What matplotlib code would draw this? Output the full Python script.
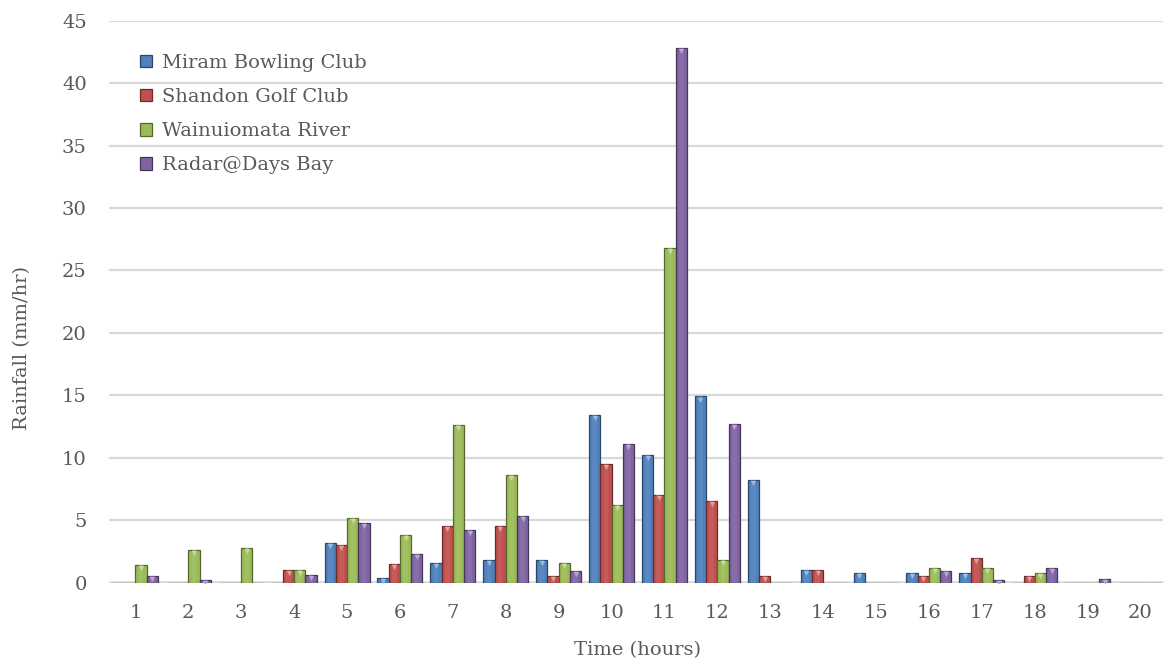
import numpy as np
import matplotlib
matplotlib.use("Agg")
import matplotlib.pyplot as plt
from matplotlib.patches import Rectangle
from matplotlib.transforms import ScaledTranslation
from matplotlib.colors import to_rgb

# Hourly rainfall at four gauges
hours = list(range(1, 21))
series_names = ["Miram Bowling Club", "Shandon Golf Club", "Wainuiomata River", "Radar@Days Bay"]
miram = [0, 0, 0, 0, 3.2, 0.4, 1.6, 1.8, 1.8, 13.4, 10.2, 14.9, 8.2, 1.0, 0.8, 0.8, 0.8, 0, 0, 0]
shandon = [0, 0, 0, 1.0, 3.0, 1.5, 4.5, 4.5, 0.5, 9.5, 7.0, 6.5, 0.5, 1.0, 0, 0.5, 2.0, 0.5, 0, 0]
wainuiomata = [1.4, 2.6, 2.8, 1.0, 5.2, 3.8, 12.6, 8.6, 1.6, 6.2, 26.8, 1.8, 0, 0, 0, 1.2, 1.2, 0.8, 0, 0]
radar = [0.5, 0.2, 0, 0.6, 4.8, 2.3, 4.2, 5.3, 0.9, 11.1, 42.8, 12.7, 0, 0, 0, 0.9, 0.2, 1.2, 0.3, 0]
y_ticks = [0, 5, 10, 15, 20, 25, 30, 35, 40, 45]

colors = ["#4F81BD", "#C0504D", "#9BBB59", "#8064A2"]
text_color = "#595959"
grid_color = "#D9D9D9"

plt.rcParams["font.family"] = ["DejaVu Serif"]


def shade(c, f):
    r, g, b = to_rgb(c)
    if f < 1:
        return (r * f, g * f, b * f)
    return (r + (1 - r) * (f - 1), g + (1 - g) * (f - 1), b + (1 - b) * (f - 1))


W, H = 1163, 661
fig = plt.figure(figsize=(W / 100, H / 100), dpi=100)
ax = fig.add_axes([109 / W, 78.5 / H, (1167 - 109) / W, (582.5 - 20.7) / H])

x = np.arange(len(hours)) + 1
bw = 0.2125
data = [miram, shandon, wainuiomata, radar]
tri_shift = ScaledTranslation(0, -2.2 / 72, fig.dpi_scale_trans)

for i, (vals, c) in enumerate(zip(data, colors)):
    vals = np.asarray(vals, dtype=float)
    xs = x + (i - 1.5) * bw
    ax.bar(xs, vals, bw, color=c, edgecolor=shade(c, 0.55), linewidth=0.9, zorder=3)
    # bevel: lighter centre strip
    ax.bar(xs, vals, bw * 0.42, color=shade(c, 1.12), linewidth=0, zorder=4, alpha=0.55)
    # bevel: highlight chevron on top
    m = vals > 0.15
    ax.scatter(xs[m], vals[m], marker="v", s=14, color=shade(c, 1.45), linewidths=0,
               zorder=5, transform=ax.transData + tri_shift)

ax.set_xlim(0.5, 20.5)
ax.set_ylim(0, 45)
ax.set_xticks(x)
ax.set_xticklabels([str(h) for h in hours])
ax.set_yticks(y_ticks)
ax.set_yticklabels([str(v) for v in y_ticks])
ax.tick_params(axis="both", length=0, labelsize=14, labelcolor=text_color)
ax.tick_params(axis="y", pad=16)
ax.tick_params(axis="x", pad=15.5)
ax.yaxis.grid(True, color=grid_color, linewidth=1.6, zorder=0)
ax.set_axisbelow(True)
for s in ax.spines.values():
    s.set_visible(False)
ax.axhline(0, color=grid_color, linewidth=2.6, zorder=2)

fig.text(638 / W, 1 - 650 / H, "Time (hours)", ha="center", va="center",
         fontsize=14, color=text_color)
fig.text(22 / W, 1 - 348 / H, "Rainfall (mm/hr)", ha="center", va="center",
         rotation=90, fontsize=14, color=text_color)

handles = [Rectangle((0, 0), 1, 1, facecolor=c, edgecolor=shade(c, 0.55), linewidth=0.9)
           for c in colors]
leg = ax.legend(handles, series_names, loc="upper left",
                bbox_to_anchor=(136 / W, 1 - 50 / H), bbox_transform=fig.transFigure,
                frameon=False, fontsize=14, labelspacing=0.83, handlelength=0.62,
                handleheight=0.62, handletextpad=0.5, borderaxespad=0, borderpad=0.2)
for t in leg.get_texts():
    t.set_color(text_color)

fig.savefig("out.png", dpi=100, facecolor="white")
